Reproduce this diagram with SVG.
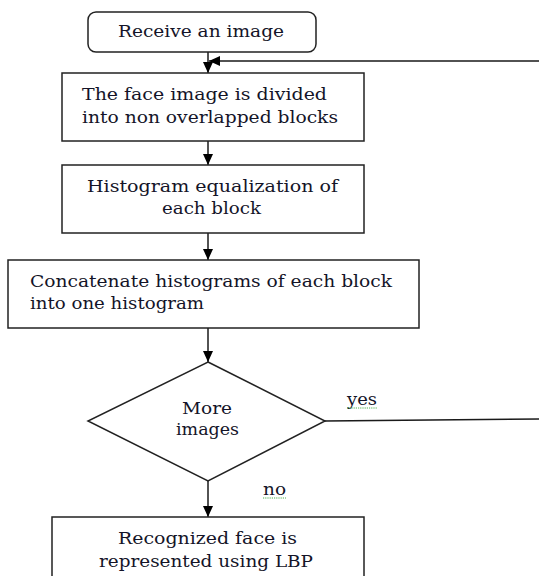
<svg xmlns="http://www.w3.org/2000/svg" width="539" height="576" viewBox="0 0 539 576">
  <style>
    .box { fill: #ffffff; stroke: #222222; stroke-width: 1.5; }
    .txt { font-family: "DejaVu Serif", "Liberation Serif", serif; font-size: 16.5px; fill: #141428; }
    .edge { fill: none; stroke: #1a1a1a; stroke-width: 1.5; }
    .squiggle { fill: none; stroke: #3aa83a; stroke-width: 0.9; stroke-dasharray: 1.2 1; }
  </style>
  <defs>
    <marker id="arrow" markerUnits="userSpaceOnUse" markerWidth="12" markerHeight="11" refX="11" refY="5" orient="auto">
      <path d="M0,0 L11,5 L0,10 z" fill="#000000"/>
    </marker>
  </defs>
  <rect width="539" height="576" fill="#ffffff"/>

  <g id="connectors">
    <path class="edge" d="M208,52 L208,73" marker-end="url(#arrow)"/>
    <path class="edge" d="M208,141 L208,165" marker-end="url(#arrow)"/>
    <path class="edge" d="M208,233 L208,260" marker-end="url(#arrow)"/>
    <path class="edge" d="M208,328 L208,362" marker-end="url(#arrow)"/>
    <path class="edge" d="M208,481 L208,517" marker-end="url(#arrow)"/>
    <path class="edge" d="M325,421 L542,419 L542,61 L209,61" marker-end="url(#arrow)"/>
    <text class="txt" x="347" y="405" textLength="30" lengthAdjust="spacingAndGlyphs">yes</text>
    <path class="squiggle" d="M347,408 L377,408"/>
    <text class="txt" x="263" y="495" textLength="23" lengthAdjust="spacingAndGlyphs">no</text>
    <path class="squiggle" d="M263,498 L286,498"/>
  </g>

  <g id="receive">
    <rect class="box" x="88" y="12" width="228" height="40" rx="8" ry="8" stroke="#444444"/>
    <text class="txt" x="118" y="37" textLength="166" lengthAdjust="spacingAndGlyphs">Receive an image</text>
  </g>

  <g id="divide">
    <rect class="box" x="62" y="73" width="302" height="68"/>
    <text class="txt" x="82" y="100" textLength="245" lengthAdjust="spacingAndGlyphs">The face image is divided</text>
    <text class="txt" x="82" y="123" textLength="256" lengthAdjust="spacingAndGlyphs">into non overlapped blocks</text>
  </g>

  <g id="equalize">
    <rect class="box" x="62" y="165" width="302" height="68"/>
    <text class="txt" x="87" y="192" textLength="251" lengthAdjust="spacingAndGlyphs">Histogram equalization of</text>
    <text class="txt" x="162" y="214" textLength="99" lengthAdjust="spacingAndGlyphs">each block</text>
  </g>

  <g id="concatenate">
    <rect class="box" x="8" y="260" width="411" height="68"/>
    <text class="txt" x="30" y="287" textLength="362" lengthAdjust="spacingAndGlyphs">Concatenate histograms of each block</text>
    <text class="txt" x="30" y="309" textLength="174" lengthAdjust="spacingAndGlyphs">into one histogram</text>
  </g>

  <g id="decision">
    <polygon class="box" points="208,362 325,421 208,481 88,421" stroke="#333333"/>
    <text class="txt" x="182" y="414" textLength="50" lengthAdjust="spacingAndGlyphs">More</text>
    <text class="txt" x="176" y="435" textLength="63" lengthAdjust="spacingAndGlyphs">images</text>
  </g>

  <g id="recognized">
    <rect class="box" x="52" y="517" width="312" height="80" stroke="#444444"/>
    <text class="txt" x="118" y="544" textLength="179" lengthAdjust="spacingAndGlyphs">Recognized face is</text>
    <text class="txt" x="99" y="567" textLength="214" lengthAdjust="spacingAndGlyphs">represented using LBP</text>
  </g>
</svg>
